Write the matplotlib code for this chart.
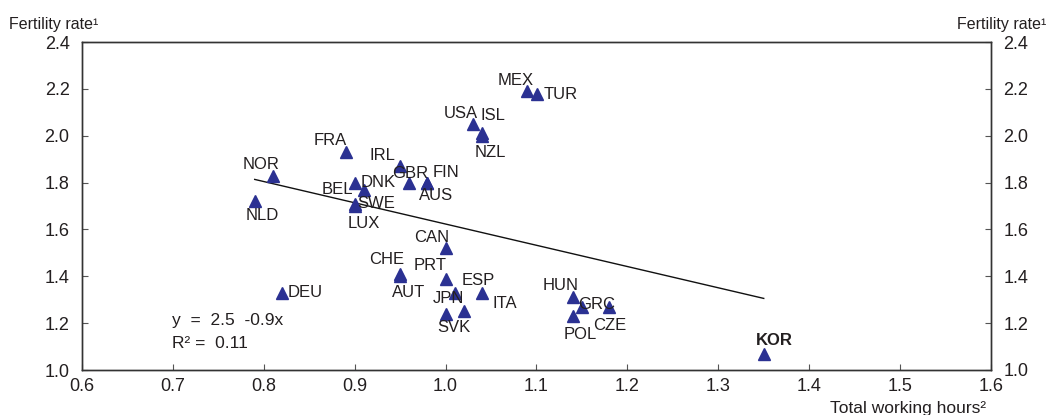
#!/usr/bin/env python3

import numpy as np
import matplotlib

matplotlib.use('Agg')
import matplotlib.pyplot as plt

# data
countries = ['MEX', 'TUR', 'USA', 'ISL', 'NZL', 'FRA', 'IRL', 'NOR', 'NLD',
             'BEL', 'DNK', 'SWE', 'LUX', 'GBR', 'FIN', 'AUS', 'CAN', 'CHE',
             'AUT', 'PRT', 'ESP', 'JPN', 'ITA', 'SVK', 'DEU', 'HUN', 'GRC',
             'CZE', 'POL', 'KOR']
hours = [1.09, 1.10, 1.03, 1.04, 1.04, 0.89, 0.95, 0.81, 0.79,
         0.90, 0.91, 0.90, 0.90, 0.96, 0.98, 0.98, 1.00, 0.95,
         0.95, 1.00, 1.01, 1.02, 1.04, 1.00, 0.82, 1.14, 1.15,
         1.18, 1.14, 1.35]
fertility = [2.19, 2.18, 2.05, 2.01, 2.00, 1.93, 1.87, 1.83, 1.72,
             1.80, 1.77, 1.71, 1.70, 1.80, 1.80, 1.80, 1.52, 1.41,
             1.40, 1.39, 1.33, 1.25, 1.33, 1.24, 1.33, 1.31, 1.27,
             1.27, 1.23, 1.07]

# regression line as printed on the chart
intercept = 2.53
slope = -0.907

# label offsets in pixels (text centre relative to marker)
offsets = {'MEX': (-12, 11), 'TUR': (24, -1), 'USA': (-12, 11), 'ISL': (11, 18),
           'NZL': (8, -17), 'FRA': (-15, 12), 'IRL': (-18, 11), 'NOR': (-12, 11),
           'NLD': (8, -14), 'BEL': (-17, -7), 'DNK': (14, 7), 'SWE': (22, 0),
           'LUX': (9, -17), 'GBR': (1, 9), 'FIN': (19, 10), 'AUS': (9, -13),
           'CAN': (-14, 11), 'CHE': (-13, 14), 'AUT': (8, -16), 'PRT': (-15, 13),
           'ESP': (24, 12), 'JPN': (-15, 13), 'ITA': (23, -11), 'SVK': (8, -14),
           'DEU': (23, 0), 'HUN': (-12, 12), 'GRC': (15, 2), 'CZE': (1, -19),
           'POL': (7, -18), 'KOR': (11, 13)}

plt.rcParams['font.family'] = ['Liberation Sans', 'DejaVu Sans']
txt = '#231f20'
blue = '#2b3192'

fig = plt.figure(figsize=(10.55, 4.15), dpi=100)
ax = fig.add_axes([82 / 1055, 1 - 370 / 415, 909 / 1055, 328 / 415])

ax.plot(hours, fertility, '^', color=blue, ms=9, mec=blue, zorder=3)

xs = np.array([min(hours), max(hours)])
ax.plot(xs, intercept + slope * xs, color='#111111', lw=1.0, zorder=2)

for c, x, y in zip(countries, hours, fertility):
    dx, dy = offsets[c]
    ax.annotate(c, (x, y), xytext=(dx, dy), textcoords='offset pixels',
                ha='center', va='center', fontsize=12, color=txt,
                fontweight='bold' if c == 'KOR' else 'normal', zorder=4)

ax.text(0.099, 0.152, 'y  =  2.5  -0.9x', transform=ax.transAxes,
        ha='left', va='center', fontsize=12.5, color=txt)
ax.text(0.099, 0.082, 'R² =  0.11', transform=ax.transAxes,
        ha='left', va='center', fontsize=12.5, color=txt)

ax.set_xlim(0.6, 1.6)
ax.set_ylim(1.0, 2.4)
ax.set_xticks(np.arange(0.6, 1.61, 0.1))
ax.set_xticklabels(['%.1f' % v for v in np.arange(0.6, 1.61, 0.1)])
ax.set_yticks(np.arange(1.0, 2.41, 0.2))
ax.set_yticklabels(['%.1f' % v for v in np.arange(1.0, 2.41, 0.2)])

ax2 = ax.twinx()
ax2.set_ylim(1.0, 2.4)
ax2.set_yticks(np.arange(1.0, 2.41, 0.2))
ax2.set_yticklabels(['%.1f' % v for v in np.arange(1.0, 2.41, 0.2)])

for a in (ax, ax2):
    for s in a.spines.values():
        s.set_color('#333333')
        s.set_linewidth(1.0)
    a.tick_params(direction='in', length=4, width=0.8, color='#555555',
                  labelsize=13, labelcolor=txt)
ax.tick_params(axis='y', pad=9)
ax.tick_params(axis='x', pad=6)
ax2.tick_params(axis='y', pad=9)

fig.text(9 / 1055, 1 - 24 / 415, 'Fertility rate¹', ha='left', va='center',
         fontsize=11.5, color=txt)
fig.text(1046 / 1055, 1 - 24 / 415, 'Fertility rate¹', ha='right', va='center',
         fontsize=11.5, color=txt)
fig.text(986 / 1055, 1 - 401 / 415, 'Total working hours²', ha='right', va='top',
         fontsize=12.5, color=txt)

plt.savefig('out.png', dpi=100)
